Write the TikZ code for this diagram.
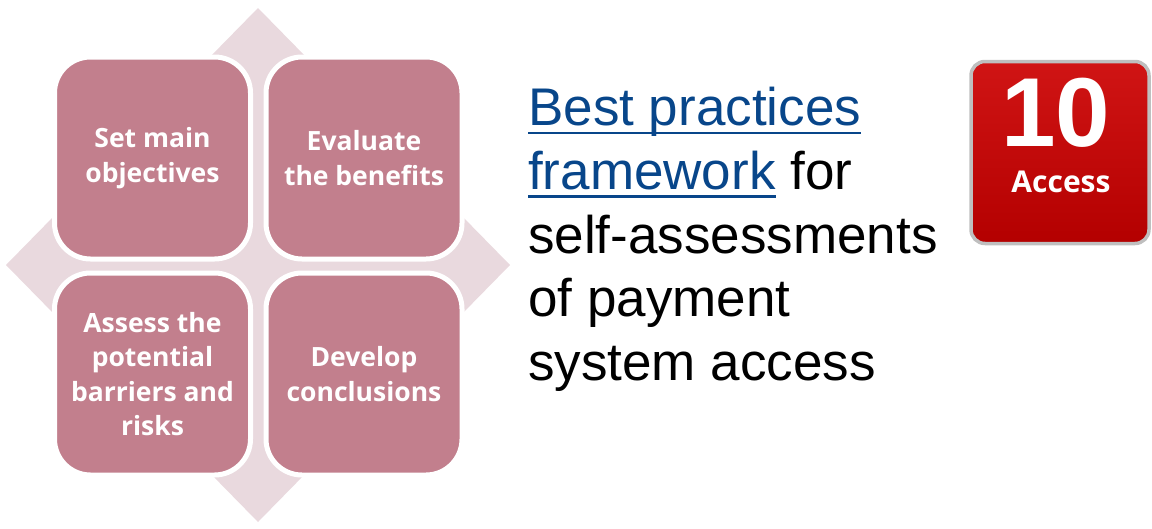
\documentclass[tikz,border=0pt]{standalone}
\usepackage{fontspec}
\setmainfont{Liberation Sans}
\newfontfamily\quadfont{Open Sans}
\usetikzlibrary{positioning, shapes}
\definecolor{quadpink}{RGB}{194,127,141}
\definecolor{diamondpink}{RGB}{233,217,222}
\definecolor{linkblue}{RGB}{8,70,138}
\definecolor{badgered}{RGB}{204,0,0}
\newcommand{\linkul}[1]{\setbox0\hbox{#1}\rlap{\rule[-8.5pt]{\wd0}{2.6pt}}\box0}

\begin{document}
\begin{tikzpicture}[x=1pt, y=-1pt,
  quad/.style={draw=white, line width=5pt, fill=quadpink, rounded corners=36pt,
    minimum width=196pt, minimum height=202pt, align=center, text=white,
    font=\quadfont\bfseries\fontsize{26.5}{34.5}\selectfont}]
  \useasboundingbox (0,0) rectangle (1152,528);
  % background diamond
  \fill[diamondpink] (258,8) -- (510,265) -- (258,522) -- (6,265) -- cycle;
  % the four steps
  \node[quad] (objectives) at (152.5,158) {Set main\\objectives};
  \node[quad] (benefits) at (364,158) {Evaluate\\the benefits};
  \node[quad] (barriers) at (152.5,374) {Assess the\\potential\\barriers and\\risks};
  \node[quad] (conclusions) at (364,374) {Develop\\conclusions};
  % title
  \node[anchor=north west, inner sep=0pt, align=left,
    font=\fontsize{53}{63.75}\selectfont] (title) at (528,87) {%
    \textcolor{linkblue}{\linkul{Best practices}}\\
    \textcolor{linkblue}{\linkul{framework}} for\\
    self-assessments\\
    of payment\\
    system access};
  % badge
  \node[rounded corners=14pt, minimum width=178pt, minimum height=182pt,
    draw=black!25, line width=3.5pt, top color=badgered!92!white,
    bottom color=badgered!88!black] (badge) at (1060,152.5) {};
  \node[text=white, font=\bfseries\fontsize{98}{98}\selectfont] (number) at (1056,113) {10};
  \node[text=white, font=\quadfont\bfseries\fontsize{30}{30}\selectfont] (access) at (1061,182) {Access};
\end{tikzpicture}
\end{document}
